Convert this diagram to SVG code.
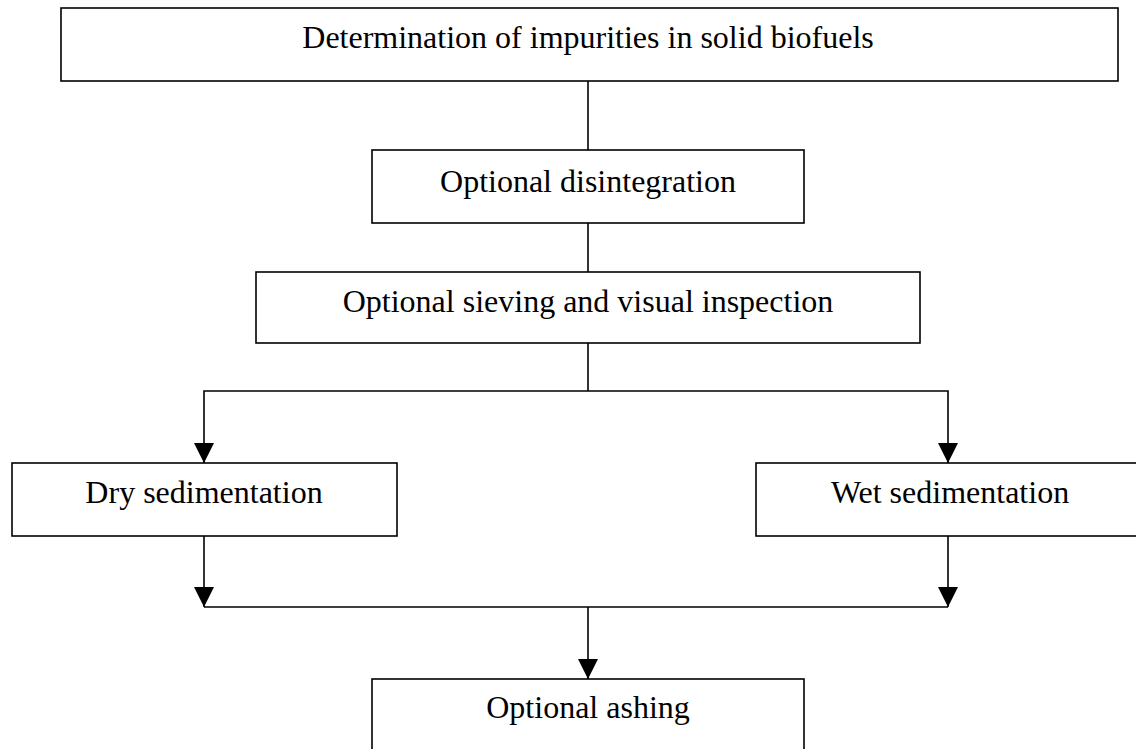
<svg xmlns="http://www.w3.org/2000/svg" width="1136" height="749" viewBox="0 0 1136 749">
<defs>
<style>
.box{fill:#fff;stroke:#000;stroke-width:1.6}
.t{font-family:"Liberation Serif","Times New Roman",serif;font-size:32px;fill:#000}
.c{fill:none;stroke:#000;stroke-width:1.6}
</style>
<marker id="ah" viewBox="0 0 20 20" refX="20" refY="10" markerWidth="20" markerHeight="20" markerUnits="userSpaceOnUse" orient="auto">
<path d="M0,0 L20,10 L0,20 Z" fill="#000"/>
</marker>
</defs>
<rect width="1136" height="749" fill="#fff"/>
<g id="connectors">
<line class="c" x1="588" y1="81" x2="588" y2="150"/>
<line class="c" x1="588" y1="223" x2="588" y2="272"/>
<polyline class="c" points="588,343 588,391"/>
<polyline class="c" points="588,391 204,391 204,463" marker-end="url(#ah)"/>
<polyline class="c" points="588,391 948,391 948,463" marker-end="url(#ah)"/>
<line class="c" x1="204" y1="536" x2="204" y2="607" marker-end="url(#ah)"/>
<line class="c" x1="948" y1="536" x2="948" y2="607" marker-end="url(#ah)"/>
<line class="c" x1="204" y1="607" x2="948" y2="607"/>
<line class="c" x1="588" y1="607" x2="588" y2="679" marker-end="url(#ah)"/>
</g>
<g id="n1"><rect class="box" x="61" y="8" width="1057" height="73"/><text class="t" x="588" y="48" text-anchor="middle">Determination of impurities in solid biofuels</text></g>
<g id="n2"><rect class="box" x="372" y="150" width="432" height="73"/><text class="t" x="588" y="192" text-anchor="middle">Optional disintegration</text></g>
<g id="n3"><rect class="box" x="256" y="272" width="664" height="71"/><text class="t" x="588" y="312" text-anchor="middle">Optional sieving and visual inspection</text></g>
<g id="n4"><rect class="box" x="12" y="463" width="385" height="73"/><text class="t" x="204" y="503" text-anchor="middle">Dry sedimentation</text></g>
<g id="n5"><rect class="box" x="756" y="463" width="388" height="73"/><text class="t" x="950" y="503" text-anchor="middle">Wet sedimentation</text></g>
<g id="n6"><rect class="box" x="372" y="679" width="432" height="80"/><text class="t" x="588" y="718" text-anchor="middle">Optional ashing</text></g>
</svg>
